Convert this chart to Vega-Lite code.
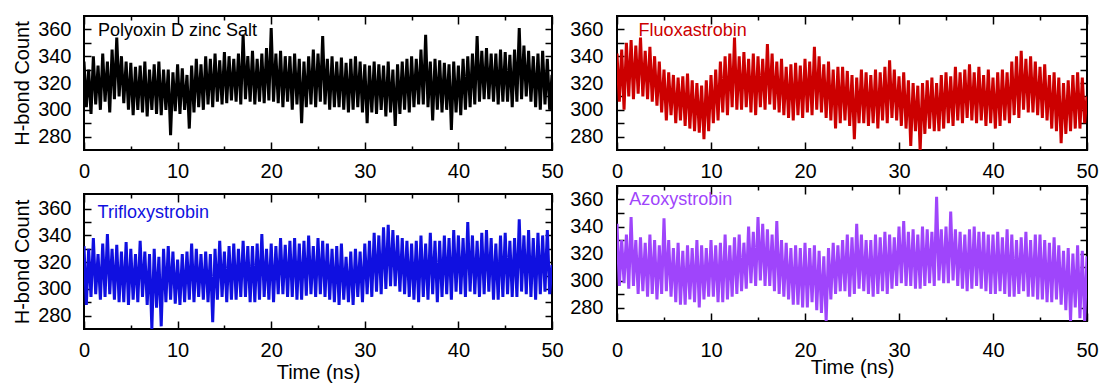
{
  "$schema": "https://vega.github.io/schema/vega-lite/v6.json",
  "padding": {"left": 11, "top": 14, "right": 0, "bottom": 0},
  "config": {
    "font": "Liberation Sans",
    "view": {"stroke": "#000", "strokeWidth": 2},
    "axis": {"domain": false, "grid": false, "labelFontSize": 20, "titleFontSize": 20, "labelColor": "#000", "titleColor": "#000", "tickColor": "#000", "tickWidth": 1.5, "titleFontWeight": "normal", "labelFont": "Liberation Sans", "titleFont": "Liberation Sans", "labelFlush": false, "labelOverlap": false}
  },
  "data": {
    "values": "t,p,f,tr,az\n0,336,342,332,342\n0.25,302,306,288,296\n0.5,330,345,330,330\n0.75,297,300,294,298\n1,340,350,338,334\n1.25,304,310,296,294\n1.5,333,352,326,347\n1.75,300,308,292,296\n2,342,348,334,330\n2.25,306,312,294,290\n2.5,336,354,341,332\n2.75,298,310,296,292\n3,345,344,330,328\n3.25,308,308,292,288\n3.5,354,347,333,334\n3.75,310,306,290,290\n4,340,340,328,330\n4.25,305,303,290,286\n4.5,336,336,335,326\n4.75,300,298,288,290\n5,335,330,330,346\n5.25,296,292,292,292\n5.5,332,328,326,330\n5.75,300,296,290,288\n6,333,326,336,324\n6.25,298,290,294,284\n6.5,336,324,328,328\n6.75,295,292,288,282\n7,330,325,326,322\n7.25,300,288,270,282\n7.5,334,327,330,326\n7.75,297,286,286,286\n8,336,322,324,324\n8.25,296,284,272,284\n8.5,330,320,330,330\n8.75,300,283,290,280\n9,330,318,332,326\n9.25,281,278,292,286\n9.5,328,322,328,324\n9.75,299,284,289,288\n10,334,326,322,330\n10.25,297,290,288,288\n10.5,331,330,326,326\n10.75,300,292,290,284\n11,326,336,328,328\n11.25,286,298,292,284\n11.5,333,340,334,334\n11.75,298,296,290,286\n12,338,342,330,326\n12.25,302,302,294,288\n12.5,334,354,326,332\n12.75,300,300,292,290\n13,340,340,328,334\n13.25,304,300,290,292\n13.5,338,343,326,328\n13.75,302,302,275,294\n14,342,338,330,340\n14.25,306,298,292,298\n14.5,337,342,336,336\n14.75,304,296,294,296\n15,343,340,328,347\n15.25,305,302,290,300\n15.5,340,338,332,342\n15.75,307,300,292,296\n16,338,349,334,338\n16.25,306,304,292,296\n16.5,342,342,330,334\n16.75,304,300,294,292\n17,356,336,336,344\n17.25,308,298,294,290\n17.5,340,338,332,330\n17.75,306,296,290,288\n18,344,332,332,328\n18.25,304,294,290,286\n18.5,338,334,334,324\n18.75,306,292,292,282\n19,342,335,341,326\n19.25,305,296,294,282\n19.5,346,333,330,324\n19.75,307,294,292,280\n20,361,338,334,328\n20.25,306,298,290,280\n20.5,342,336,332,324\n20.75,305,296,296,284\n21,344,347,338,326\n21.25,302,300,296,278\n21.5,340,340,333,322\n21.75,306,298,294,276\n22,340,334,336,318\n22.25,300,294,294,270\n22.5,342,336,338,324\n22.75,304,292,292,286\n23,338,330,334,328\n23.25,290,286,292,290\n23.5,336,332,336,326\n23.75,302,290,295,292\n24,340,332,340,330\n24.25,304,292,296,292\n24.5,345,329,332,334\n24.75,302,288,294,288\n25,342,326,338,332\n25.25,306,278,296,290\n25.5,355,324,336,342\n25.75,304,290,294,294\n26,338,330,334,334\n26.25,300,290,292,292\n26.5,340,328,330,330\n26.75,302,288,290,290\n27,336,326,332,330\n27.25,302,290,288,288\n27.5,339,330,334,334\n27.75,300,286,292,290\n28,335,328,324,332\n28.25,298,292,290,292\n28.5,338,332,328,336\n28.75,300,290,288,290\n29,340,337,330,334\n29.25,302,294,294,294\n29.5,336,330,328,332\n29.75,298,292,290,296\n30,334,325,334,340\n30.25,290,288,296,298\n30.5,333,328,336,344\n30.75,298,286,294,296\n31,336,322,342,336\n31.25,297,273,298,296\n31.5,334,320,340,338\n31.75,300,284,296,294\n32,333,318,346,334\n32.25,295,269,300,294\n32.5,336,320,348,340\n32.75,298,282,302,296\n33,330,322,344,338\n33.25,288,286,302,298\n33.5,334,324,340,336\n33.75,297,284,298,296\n34,336,320,338,362\n34.25,300,284,296,300\n34.5,338,326,336,338\n34.75,298,286,294,298\n35,340,328,334,340\n35.25,302,290,292,298\n35.5,338,325,336,351\n35.75,304,288,290,300\n36,345,332,340,338\n36.25,304,292,294,296\n36.5,356,328,334,336\n36.75,302,290,292,294\n37,336,330,342,334\n37.25,292,294,296,292\n37.5,338,334,336,338\n37.75,300,292,290,294\n38,337,328,336,340\n38.25,298,290,294,296\n38.5,335,332,340,336\n38.75,300,292,296,294\n39,334,326,338,336\n39.25,285,288,292,292\n39.5,336,330,344,334\n39.75,298,290,298,290\n40,333,324,340,334\n40.25,296,286,296,290\n40.5,338,328,338,336\n40.75,300,288,294,292\n41,340,330,350,332\n41.25,302,292,298,290\n41.5,342,328,340,338\n41.75,304,290,296,288\n42,355,336,336,334\n42.25,306,296,294,288\n42.5,344,340,342,330\n42.75,308,294,296,290\n43,346,344,344,332\n43.25,308,300,298,292\n43.5,342,338,338,336\n43.75,306,298,292,288\n44,342,340,334,330\n44.25,304,298,292,288\n44.5,345,336,340,334\n44.75,306,296,294,286\n45,343,332,342,334\n45.25,306,294,296,286\n45.5,341,334,336,330\n45.75,302,292,294,284\n46,345,326,338,328\n46.25,306,286,294,284\n46.5,361,328,352,332\n46.75,308,284,298,286\n47,348,324,340,326\n47.25,310,275,296,282\n47.5,344,320,344,322\n47.75,306,282,294,278\n48,340,322,338,324\n48.25,302,284,292,270\n48.5,342,326,342,320\n48.75,300,286,296,280\n49,344,328,340,326\n49.25,304,286,298,272\n49.5,338,324,344,322\n49.75,300,290,296,270\n50,326,310,318,318",
    "format": {"type": "csv", "parse": {"t": "number", "p": "number", "f": "number", "tr": "number", "az": "number"}}
  },
  "spacing": 3,
  "hconcat": [
    {
      "spacing": 6,
      "vconcat": [
        {
          "width": 468, "height": 134,
          "layer": [
            {
              "mark": {"type": "line", "color": "#000000", "strokeWidth": 3, "clip": true},
              "encoding": {
                "x": {"field": "t", "type": "quantitative", "scale": {"domain": [0, 50], "nice": false, "zero": false},
                  "axis": {"orient": "bottom", "values": [0, 5, 10, 15, 20, 25, 30, 35, 40, 45, 50], "labelExpr": "datum.value % 10 === 0 ? datum.label : ''", "tickSize": {"condition": {"test": "datum.value % 10 !== 0", "value": -4}, "value": -8}, "labelPadding": 19, "title": null}},
                "y": {"field": "p", "type": "quantitative", "scale": {"domain": [270, 370], "nice": false, "zero": false},
                  "axis": {"orient": "left", "values": [280, 290, 300, 310, 320, 330, 340, 350, 360], "labelExpr": "datum.value % 20 === 0 ? datum.label : ''", "tickSize": -7, "labelPadding": 20, "title": "H-bond Count", "titlePadding": 5}}
              }
            },
            {
              "data": {"values": [{"label": "Polyoxin D zinc Salt"}]},
              "mark": {"type": "text", "align": "left", "baseline": "middle", "fontSize": 18, "color": "#000000"},
              "encoding": {
                "text": {"field": "label"},
                "x": {"datum": 1.5, "type": "quantitative", "axis": {"orient": "top", "values": [0, 5, 10, 15, 20, 25, 30, 35, 40, 45, 50], "labels": false, "tickSize": {"condition": {"test": "datum.value % 10 !== 0", "value": -4}, "value": -8}, "title": null}},
                "y": {"datum": 359, "type": "quantitative", "axis": {"orient": "right", "values": [280, 290, 300, 310, 320, 330, 340, 350, 360], "labels": false, "tickSize": -7, "title": null}}
              }
            }
          ],
          "resolve": {"axis": {"x": "independent", "y": "independent"}}
        },
        {
          "width": 468, "height": 135,
          "layer": [
            {
              "mark": {"type": "line", "color": "#1010e0", "strokeWidth": 3, "clip": true},
              "encoding": {
                "x": {"field": "t", "type": "quantitative", "scale": {"domain": [0, 50], "nice": false, "zero": false},
                  "axis": {"orient": "bottom", "values": [0, 5, 10, 15, 20, 25, 30, 35, 40, 45, 50], "labelExpr": "datum.value % 10 === 0 ? datum.label : ''", "tickSize": {"condition": {"test": "datum.value % 10 !== 0", "value": -4}, "value": -8}, "labelPadding": 19, "title": "Time (ns)", "titlePadding": -2}},
                "y": {"field": "tr", "type": "quantitative", "scale": {"domain": [270, 371], "nice": false, "zero": false},
                  "axis": {"orient": "left", "values": [280, 290, 300, 310, 320, 330, 340, 350, 360], "labelExpr": "datum.value % 20 === 0 ? datum.label : ''", "tickSize": -7, "labelPadding": 20, "title": "H-bond Count", "titlePadding": 5}}
              }
            },
            {
              "data": {"values": [{"label": "Trifloxystrobin"}]},
              "mark": {"type": "text", "align": "left", "baseline": "middle", "fontSize": 18, "color": "#1010e0"},
              "encoding": {
                "text": {"field": "label"},
                "x": {"datum": 1.45, "type": "quantitative", "axis": {"orient": "top", "values": [0, 5, 10, 15, 20, 25, 30, 35, 40, 45, 50], "labels": false, "tickSize": {"condition": {"test": "datum.value % 10 !== 0", "value": -4}, "value": -8}, "title": null}},
                "y": {"datum": 357, "type": "quantitative", "axis": {"orient": "right", "values": [280, 290, 300, 310, 320, 330, 340, 350, 360], "labels": false, "tickSize": -7, "title": null}}
              }
            }
          ],
          "resolve": {"axis": {"x": "independent", "y": "independent"}}
        }
      ]
    },
    {
      "spacing": -3,
      "vconcat": [
        {
          "width": 470, "height": 134,
          "layer": [
            {
              "mark": {"type": "line", "color": "#cc0000", "strokeWidth": 3, "clip": true},
              "encoding": {
                "x": {"field": "t", "type": "quantitative", "scale": {"domain": [0, 50], "nice": false, "zero": false},
                  "axis": {"orient": "bottom", "values": [0, 5, 10, 15, 20, 25, 30, 35, 40, 45, 50], "labelExpr": "datum.value % 10 === 0 ? datum.label : ''", "tickSize": {"condition": {"test": "datum.value % 10 !== 0", "value": -4}, "value": -8}, "labelPadding": 19, "title": null}},
                "y": {"field": "f", "type": "quantitative", "scale": {"domain": [270, 370], "nice": false, "zero": false},
                  "axis": {"orient": "left", "values": [280, 290, 300, 310, 320, 330, 340, 350, 360], "labelExpr": "datum.value % 20 === 0 ? datum.label : ''", "tickSize": -7, "labelPadding": 21, "title": null}}
              }
            },
            {
              "data": {"values": [{"label": "Fluoxastrobin"}]},
              "mark": {"type": "text", "align": "left", "baseline": "middle", "fontSize": 18, "color": "#cc0000"},
              "encoding": {
                "text": {"field": "label"},
                "x": {"datum": 2.3, "type": "quantitative", "axis": {"orient": "top", "values": [0, 5, 10, 15, 20, 25, 30, 35, 40, 45, 50], "labels": false, "tickSize": {"condition": {"test": "datum.value % 10 !== 0", "value": -4}, "value": -8}, "title": null}},
                "y": {"datum": 359, "type": "quantitative", "axis": {"orient": "right", "values": [280, 290, 300, 310, 320, 330, 340, 350, 360], "labels": false, "tickSize": -7, "title": null}}
              }
            }
          ],
          "resolve": {"axis": {"x": "independent", "y": "independent"}}
        },
        {
          "width": 470, "height": 135,
          "layer": [
            {
              "mark": {"type": "line", "color": "#9f45fb", "strokeWidth": 3, "clip": true},
              "encoding": {
                "x": {"field": "t", "type": "quantitative", "scale": {"domain": [0, 50], "nice": false, "zero": false},
                  "axis": {"orient": "bottom", "values": [0, 5, 10, 15, 20, 25, 30, 35, 40, 45, 50], "labelExpr": "datum.value % 10 === 0 ? datum.label : ''", "tickSize": {"condition": {"test": "datum.value % 10 !== 0", "value": -4}, "value": -8}, "labelPadding": 27.5, "title": "Time (ns)", "titlePadding": -7}},
                "y": {"field": "az", "type": "quantitative", "scale": {"domain": [270, 370], "nice": false, "zero": false},
                  "axis": {"orient": "left", "values": [280, 290, 300, 310, 320, 330, 340, 350, 360], "labelExpr": "datum.value % 20 === 0 ? datum.label : ''", "tickSize": -7, "labelPadding": 21, "title": null}}
              }
            },
            {
              "data": {"values": [{"label": "Azoxystrobin"}]},
              "mark": {"type": "text", "align": "left", "baseline": "middle", "fontSize": 18, "color": "#9f45fb"},
              "encoding": {
                "text": {"field": "label"},
                "x": {"datum": 1.3, "type": "quantitative", "axis": {"orient": "top", "values": [0, 5, 10, 15, 20, 25, 30, 35, 40, 45, 50], "labels": false, "tickSize": {"condition": {"test": "datum.value % 10 !== 0", "value": -4}, "value": -8}, "title": null}},
                "y": {"datum": 359.5, "type": "quantitative", "axis": {"orient": "right", "values": [280, 290, 300, 310, 320, 330, 340, 350, 360], "labels": false, "tickSize": -7, "title": null}}
              }
            }
          ],
          "resolve": {"axis": {"x": "independent", "y": "independent"}}
        }
      ]
    }
  ]
}
